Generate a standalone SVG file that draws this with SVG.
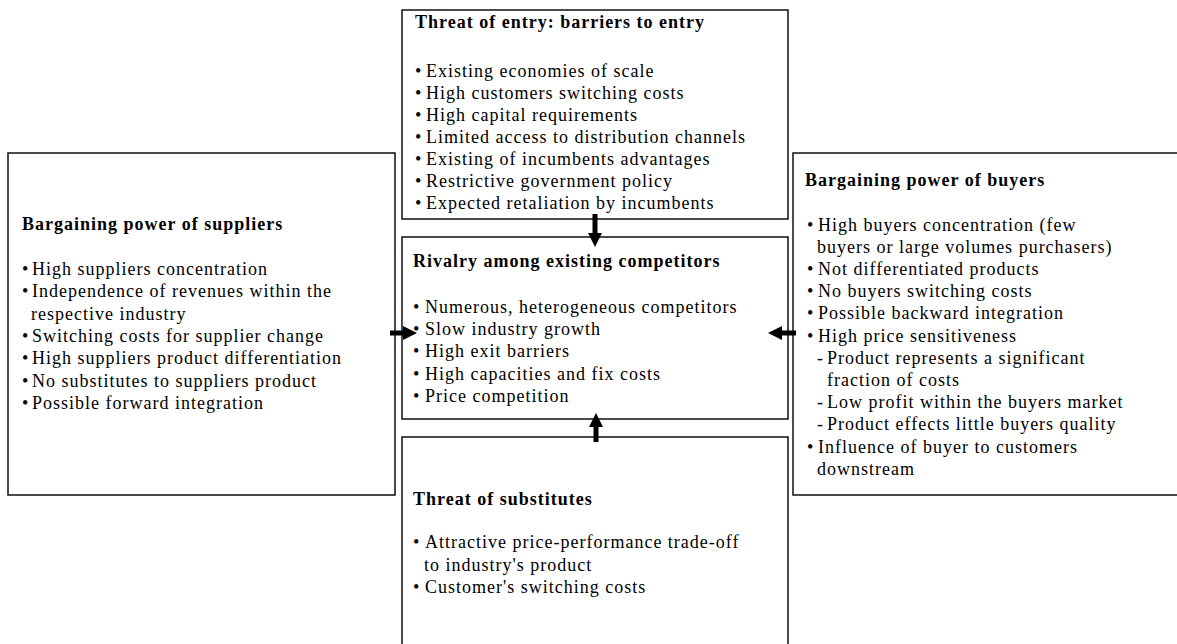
<svg xmlns="http://www.w3.org/2000/svg" width="1177" height="644" viewBox="0 0 1177 644">
<style>
.box{fill:#fff;stroke:#111;stroke-width:1.5}
text{font-family:"Liberation Serif","Times New Roman",serif;font-size:18px;letter-spacing:1px;fill:#000}
.h{font-weight:bold}
.arr{stroke:#000;stroke-width:5;fill:none}
</style>
<defs>
<marker id="ah" viewBox="0 0 14 14" refX="0" refY="7" markerWidth="14" markerHeight="14" markerUnits="userSpaceOnUse" orient="auto">
<path d="M0,0 L14,7 L0,14 z" fill="#000"/>
</marker>
</defs>
<rect width="1177" height="644" fill="#fff"/>

<g id="entry">
<rect class="box" x="402" y="10" width="386" height="209"/>
<text class="h" x="415" y="27.5">Threat of entry: barriers to entry</text>
<text y="76.7"><tspan x="415">•</tspan><tspan x="426">Existing economies of scale</tspan></text>
<text y="98.8"><tspan x="415">•</tspan><tspan x="426">High customers switching costs</tspan></text>
<text y="120.9"><tspan x="415">•</tspan><tspan x="426">High capital requirements</tspan></text>
<text y="143"><tspan x="415">•</tspan><tspan x="426">Limited access to distribution channels</tspan></text>
<text y="165.1"><tspan x="415">•</tspan><tspan x="426">Existing of incumbents advantages</tspan></text>
<text y="187.2"><tspan x="415">•</tspan><tspan x="426">Restrictive government policy</tspan></text>
<text y="209.3"><tspan x="415">•</tspan><tspan x="426">Expected retaliation by incumbents</tspan></text>
</g>

<g id="suppliers">
<rect class="box" x="8" y="153" width="387" height="342"/>
<text class="h" x="22" y="230">Bargaining power of suppliers</text>
<text y="275"><tspan x="22">•</tspan><tspan x="32">High suppliers concentration</tspan></text>
<text y="297.3"><tspan x="22">•</tspan><tspan x="32">Independence of revenues within the</tspan></text>
<text x="31" y="319.6">respective industry</text>
<text y="342"><tspan x="22">•</tspan><tspan x="32">Switching costs for supplier change</tspan></text>
<text y="364.2"><tspan x="22">•</tspan><tspan x="32">High suppliers product differentiation</tspan></text>
<text y="386.5"><tspan x="22">•</tspan><tspan x="32">No substitutes to suppliers product</tspan></text>
<text y="408.8"><tspan x="22">•</tspan><tspan x="32">Possible forward integration</tspan></text>
</g>

<g id="rivalry">
<rect class="box" x="402" y="237" width="386" height="182"/>
<text class="h" x="413" y="267">Rivalry among existing competitors</text>
<text y="313"><tspan x="413">•</tspan><tspan x="425">Numerous, heterogeneous competitors</tspan></text>
<text y="335.2"><tspan x="413">•</tspan><tspan x="425">Slow industry growth</tspan></text>
<text y="357.4"><tspan x="413">•</tspan><tspan x="425">High exit barriers</tspan></text>
<text y="379.6"><tspan x="413">•</tspan><tspan x="425">High capacities and fix costs</tspan></text>
<text y="401.8"><tspan x="413">•</tspan><tspan x="425">Price competition</tspan></text>
</g>

<g id="buyers">
<rect class="box" x="793" y="153" width="390" height="342"/>
<text class="h" x="805" y="185.5">Bargaining power of buyers</text>
<text y="230.5"><tspan x="807">•</tspan><tspan x="818">High buyers concentration (few</tspan></text>
<text x="817" y="252.7">buyers or large volumes purchasers)</text>
<text y="274.9"><tspan x="807">•</tspan><tspan x="818">Not differentiated products</tspan></text>
<text y="297.1"><tspan x="807">•</tspan><tspan x="818">No buyers switching costs</tspan></text>
<text y="319.3"><tspan x="807">•</tspan><tspan x="818">Possible backward integration</tspan></text>
<text y="341.5"><tspan x="807">•</tspan><tspan x="818">High price sensitiveness</tspan></text>
<text y="363.7"><tspan x="817">-</tspan><tspan x="827">Product represents a significant</tspan></text>
<text x="827" y="385.9">fraction of costs</text>
<text y="408.1"><tspan x="817">-</tspan><tspan x="827">Low profit within the buyers market</tspan></text>
<text y="430.3"><tspan x="817">-</tspan><tspan x="827">Product effects little buyers quality</tspan></text>
<text y="452.5"><tspan x="807">•</tspan><tspan x="818">Influence of buyer to customers</tspan></text>
<text x="817" y="474.7">downstream</text>
</g>

<g id="substitutes">
<rect class="box" x="402" y="437" width="386" height="215"/>
<text class="h" x="413" y="505">Threat of substitutes</text>
<text y="548"><tspan x="413">•</tspan><tspan x="425">Attractive price-performance trade-off</tspan></text>
<text x="424" y="570.5">to industry's product</text>
<text y="593"><tspan x="413">•</tspan><tspan x="425">Customer's switching costs</tspan></text>
</g>

<g id="connectors">
<line class="arr" x1="595" y1="214" x2="595" y2="233" marker-end="url(#ah)"/>
<line class="arr" x1="596" y1="442" x2="596" y2="427" marker-end="url(#ah)"/>
<line class="arr" x1="390" y1="333" x2="403" y2="333" marker-end="url(#ah)"/>
<line class="arr" x1="796" y1="333" x2="782" y2="333" marker-end="url(#ah)"/>
</g>
</svg>
